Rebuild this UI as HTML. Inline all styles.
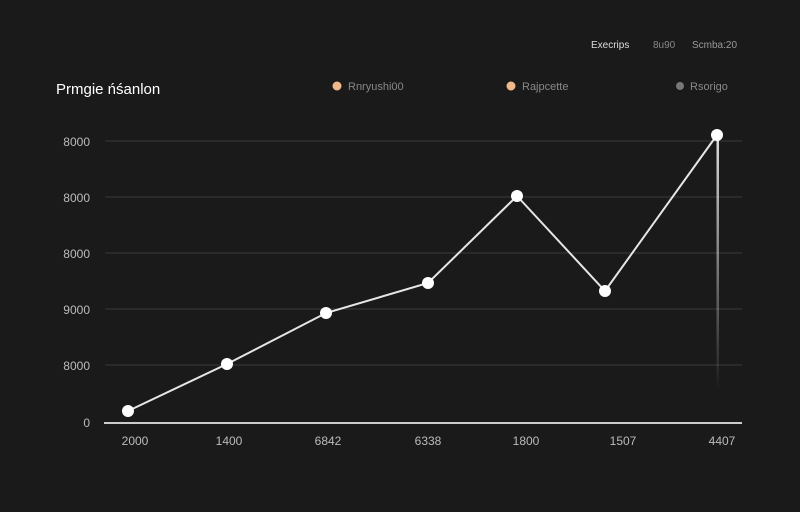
<!DOCTYPE html>
<html><head><style>
body{margin:0;background:#1b1a1a;}
svg{display:block;font-family:"Liberation Sans",sans-serif;}
</style></head><body>
<svg width="800" height="512" viewBox="0 0 800 512">
<defs><linearGradient id="f" x1="0" y1="0" x2="0" y2="1"><stop offset="0" stop-color="#ddd"/><stop offset="1" stop-color="#ddd" stop-opacity="0"/></linearGradient></defs>
<rect width="800" height="512" fill="#1b1a1a"/>
<text x="591" y="48" font-size="10" fill="#ddd">Execrips</text>
<text x="653" y="48" font-size="10" fill="#888">8u90</text>
<text x="692" y="48" font-size="10" fill="#999">Scmba:20</text>
<text x="56" y="94" font-size="15" fill="#fff">Prmgie ńśanlon</text>
<circle cx="337" cy="86" r="4.5" fill="#f0b98a"/><text x="348" y="90" font-size="11" fill="#888">Rnryushi00</text>
<circle cx="511" cy="86" r="4.5" fill="#f0b98a"/><text x="522" y="90" font-size="11" fill="#888">Rajpcette</text>
<circle cx="680" cy="86" r="4" fill="#777"/><text x="690" y="90" font-size="11" fill="#888">Rsorigo</text>
<g stroke="#3a3a3a" stroke-width="1">
<line x1="105" y1="141" x2="742" y2="141"/><line x1="105" y1="197" x2="742" y2="197"/>
<line x1="105" y1="253" x2="742" y2="253"/><line x1="105" y1="309" x2="742" y2="309"/>
<line x1="105" y1="365" x2="742" y2="365"/></g>
<line x1="104" y1="423" x2="742" y2="423" stroke="#ccc" stroke-width="2"/>
<g font-size="12" fill="#bbb" text-anchor="end">
<text x="90" y="146">8000</text><text x="90" y="202">8000</text><text x="90" y="258">8000</text>
<text x="90" y="314">9000</text><text x="90" y="370">8000</text><text x="90" y="427">0</text></g>
<g font-size="12" fill="#bbb" text-anchor="middle">
<text x="135" y="445">2000</text><text x="229" y="445">1400</text><text x="328" y="445">6842</text>
<text x="428" y="445">6338</text><text x="526" y="445">1800</text><text x="623" y="445">1507</text><text x="722" y="445">4407</text></g>
<rect x="716.5" y="135" width="2.5" height="255" fill="url(#f)"/>
<polyline points="128,411 227,364 326,313 428,283 517,196 605,291 717,135" fill="none" stroke="#e6e6e6" stroke-width="2"/>
<g fill="#fff"><circle cx="128" cy="411" r="6"/><circle cx="227" cy="364" r="6"/><circle cx="326" cy="313" r="6"/><circle cx="428" cy="283" r="6"/><circle cx="517" cy="196" r="6"/><circle cx="605" cy="291" r="6"/><circle cx="717" cy="135" r="6"/></g>
</svg>
</body></html>
